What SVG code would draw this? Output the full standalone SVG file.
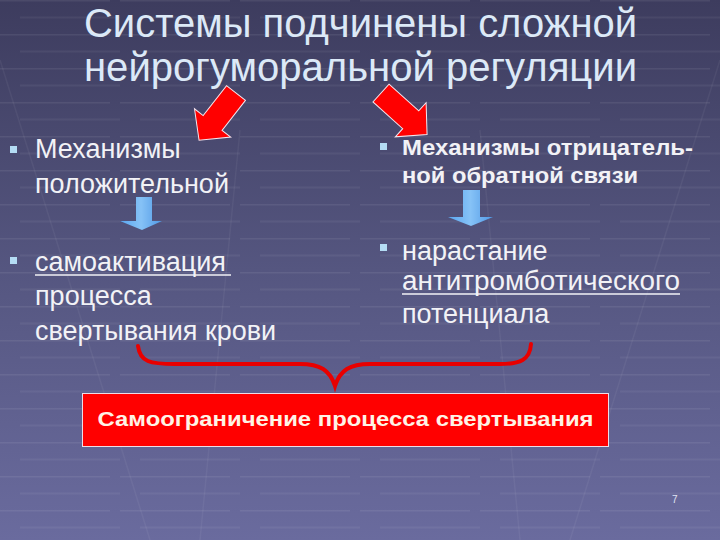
<svg xmlns="http://www.w3.org/2000/svg" width="720" height="540" viewBox="0 0 720 540">
  <defs>
    <linearGradient id="bg" x1="0" y1="0" x2="0" y2="1">
      <stop offset="0" stop-color="#3d3c5e"/>
      <stop offset="0.5" stop-color="#555680"/>
      <stop offset="1" stop-color="#6a6b9e"/>
    </linearGradient>
    <linearGradient id="blue" x1="0" y1="0" x2="1" y2="0">
      <stop offset="0" stop-color="#5aa6f0"/>
      <stop offset="0.5" stop-color="#86c2f6"/>
      <stop offset="1" stop-color="#4f98e6"/>
    </linearGradient>
    <pattern id="grid" width="120" height="34" patternUnits="userSpaceOnUse">
      <line x1="0" y1="0.5" x2="110" y2="0.5" stroke="#ffffff" stroke-opacity="0.07" stroke-width="2"/>
      <line x1="20" y1="17.5" x2="120" y2="17.5" stroke="#ffffff" stroke-opacity="0.05" stroke-width="2"/>
    </pattern>
    <style>
      .title { font-family: "Liberation Sans", Arial, sans-serif; font-size: 40px; fill: #dce9f7; }
      .body { font-family: "Liberation Sans", Arial, sans-serif; font-size: 27px; fill: #f2f2f6; }
      .bold { font-family: "Liberation Sans", Arial, sans-serif; font-size: 22px; font-weight: bold; fill: #f2f2f6; }
      .bullet { fill: #b4dcf4; }
      .red { fill: #ff0000; stroke: #f4e6ee; stroke-width: 1; }
      .barrow { fill: url(#blue); }
      .u { stroke: #f2f2f6; stroke-width: 1.5; }
    </style>
  </defs>

  <rect width="720" height="540" fill="url(#bg)"/>
  <rect width="720" height="540" fill="url(#grid)"/>
  <g stroke="#ffffff" stroke-opacity="0.05" stroke-width="1.5" fill="none">
    <line x1="0" y1="60" x2="150" y2="540"/>
    <line x1="720" y1="60" x2="570" y2="540"/>
    <line x1="240" y1="130" x2="200" y2="540"/>
    <line x1="480" y1="130" x2="520" y2="540"/>
  </g>

  <g id="title">
    <text class="title" x="84" y="37" textLength="553" lengthAdjust="spacingAndGlyphs">Системы подчинены сложной</text>
    <text class="title" x="84" y="81" textLength="553" lengthAdjust="spacingAndGlyphs">нейрогуморальной регуляции</text>
  </g>

  <g id="connectors">
    <polygon class="red" transform="translate(236,93) rotate(128)" points="0,-12 38,-12 38,-23 60,0 38,23 38,12 0,12"/>
    <polygon class="red" transform="translate(381,93) rotate(42)" points="0,-12 40,-12 40,-23 62,0 40,23 40,12 0,12"/>
    <polygon class="barrow" points="136,197 152,197 152,221 162,221 142,230 120,221 136,221"/>
    <polygon class="barrow" points="463,190 480,190 480,217 493,217 471,226 448,217 463,217"/>
    <path d="M138,346 C140,362 150,364 175,364 L300,364 C320,364 330,370 335,386 C340,370 350,364 370,364 L500,364 C520,364 530,360 531,344" fill="none" stroke="#e80000" stroke-width="4" stroke-linecap="round"/>
  </g>

  <g id="node-positive">
    <rect class="bullet" x="10" y="146" width="7" height="7"/>
    <text class="body" x="35" y="158">Механизмы</text>
    <text class="body" x="35" y="193">положительной</text>
  </g>

  <g id="node-selfactivation">
    <rect class="bullet" x="10" y="257" width="7" height="7"/>
    <text class="body" x="35" y="271">самоактивация</text>
    <line class="u" x1="35" y1="275" x2="231" y2="275"/>
    <text class="body" x="35" y="305">процесса</text>
    <text class="body" x="35" y="340">свертывания крови</text>
  </g>

  <g id="node-negative">
    <rect class="bullet" x="380" y="143" width="7" height="7"/>
    <text class="bold" x="402" y="155" textLength="291" lengthAdjust="spacingAndGlyphs">Механизмы отрицатель-</text>
    <text class="bold" x="402" y="183" textLength="236" lengthAdjust="spacingAndGlyphs">ной обратной связи</text>
  </g>

  <g id="node-antithrombotic">
    <rect class="bullet" x="380" y="244" width="7" height="7"/>
    <text class="body" x="402" y="260">нарастание</text>
    <text class="body" x="402" y="290" textLength="278" lengthAdjust="spacingAndGlyphs">антитромботического</text>
    <line class="u" x1="402" y1="294" x2="680" y2="294"/>
    <text class="body" x="402" y="323">потенциала</text>
  </g>

  <g id="node-result">
    <rect x="82.5" y="393.5" width="526" height="53" fill="#ff0000" stroke="#eedde6" stroke-width="1"/>
    <text x="345.5" y="426" text-anchor="middle" font-family="Liberation Sans, Arial, sans-serif" font-size="21" font-weight="bold" fill="#fff3e6" textLength="496" lengthAdjust="spacingAndGlyphs">Самоограничение процесса свертывания</text>
  </g>

  <text x="672" y="503" font-family="Liberation Sans, Arial, sans-serif" font-size="10" fill="#e0e4f4">7</text>
</svg>
